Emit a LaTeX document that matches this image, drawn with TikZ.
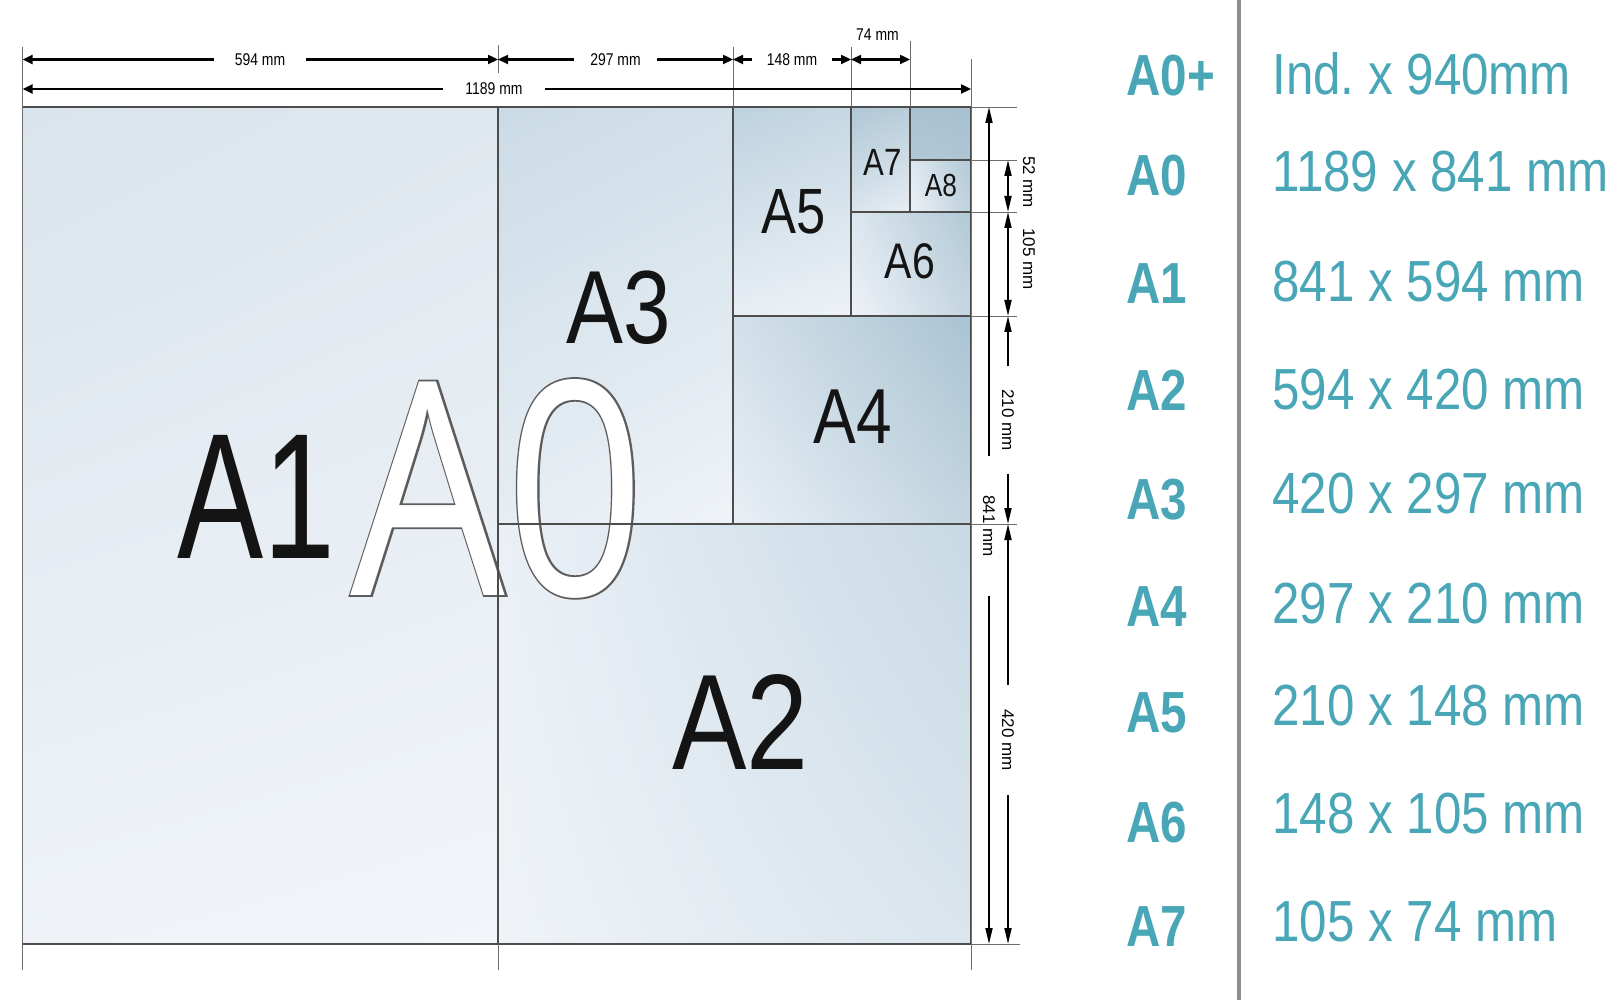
\documentclass[tikz,border=0pt]{standalone}
\usepackage{graphicx}
\usepackage{fontspec}
\setmainfont[FakeStretch=0.82]{Liberation Sans}
\newfontfamily\rotfont{Liberation Sans}
\newfontfamily\dimsfont[FakeStretch=0.85]{Liberation Sans}
\newfontfamily\outfont[FakeStretch=0.82]{Open Sans}
\newfontfamily\outrimfont[FakeStretch=0.82,FakeBold=1.2]{Open Sans}
\usetikzlibrary{arrows.meta,shadings}
\frenchspacing

\definecolor{edgegray}{HTML}{4D4D4D}
\definecolor{guidegray}{HTML}{6E6E6E}
\definecolor{rimgray}{HTML}{5C5C5C}
\definecolor{bargray}{HTML}{8E8E8E}
\definecolor{sizeteal}{HTML}{48A6B6}
\definecolor{nameblack}{HTML}{141414}

% four-corner tint of one sheet: corners, then ul ur ll lr
\newcommand{\papertint}[6]{%
  \definecolor{tintul}{HTML}{#3}\definecolor{tintur}{HTML}{#4}%
  \definecolor{tintll}{HTML}{#5}\definecolor{tintlr}{HTML}{#6}%
  \shade[upper left=tintul,upper right=tintur,lower left=tintll,lower right=tintlr] #1 rectangle #2;}

\tikzset{
  htip/.tip={Triangle[length=5pt,width=4.5pt]},
  vtip/.tip={Triangle[length=8pt,width=3.5pt]},
}

\begin{document}
\begin{tikzpicture}[x=0.5pt,y=-0.5pt,
  sheetline/.style={draw=edgegray,line width=0.65pt},
  guide/.style={draw=guidegray,line width=0.45pt},
  dimh/.style={line width=1.15pt},
  dimv/.style={line width=0.9pt},
  dimlabel/.style={font=\fontsize{8.5}{9}\selectfont,inner ysep=1pt,inner xsep=#1},
  dimlabel/.default=2pt,
  vlabel/.style={font=\rotfont\fontsize{8.5}{9}\selectfont,rotate=-90,inner ysep=1pt,inner xsep=#1},
  vlabel/.default=2pt,
  sheetname/.style={inner sep=0pt,anchor=base,text=nameblack,font=\fontsize{#1}{#1}\selectfont},
  sizename/.style={inner sep=0pt,anchor=base west,text=sizeteal,font=\bfseries\fontsize{29}{29}\selectfont},
  sizedims/.style={inner sep=0pt,anchor=base west,text=sizeteal,font=\dimsfont\fontsize{29}{29}\selectfont}]
\useasboundingbox (0,0) rectangle (1608,1000);

% corners of the sheets
\coordinate (pL) at (22.6,107);
\coordinate (pA) at (498,107);
\coordinate (pB) at (733,107);
\coordinate (pC) at (851,107);
\coordinate (pD) at (910,107);
\coordinate (qT) at (971,107);
\coordinate (q8) at (971,160);
\coordinate (q7) at (971,212);
\coordinate (q5) at (971,316);
\coordinate (q3) at (971,524);
\coordinate (qB) at (971,944);
\coordinate (cv) at (1008,0);

% tints of the sheets
\papertint{(pL)}{(pA |- qB)}{DAE4EC}{E0E8EF}{EFF3F8}{F2F5F9}
\papertint{(pA)}{(pB |- q3)}{CBDBE6}{D2E0E9}{E6EDF3}{EFF3F8}
\papertint{(pA |- q3)}{(qB)}{EBF0F6}{C8D9E4}{EFF3F8}{DAE5ED}
\papertint{(pB |- q5)}{(q3)}{D3E0E9}{A9C3D3}{E9EFF5}{C3D5E0}
\papertint{(pB)}{(pC |- q5)}{BDD2DF}{C6D8E3}{E8EEF4}{EEF2F7}
\papertint{(pC |- q7)}{(q5)}{DCE6EE}{B1C8D6}{EEF2F7}{C5D6E1}
\papertint{(pC)}{(pD |- q7)}{AFC7D6}{B8CDDA}{D9E4EC}{E8EEF4}
\papertint{(pD |- q8)}{(q7)}{DDE7EE}{B2C9D7}{EEF2F7}{BED1DD}
\papertint{(pD)}{(q8)}{A9C2D2}{A8C1D1}{B1C8D6}{ADC5D4}

% outlined A0
\node[sheetname=149,font=\outrimfont\fontsize{149}{149}\selectfont,text=rimgray] (A0rim) at (498,595) {A0};
\node[sheetname=149,font=\outfont\fontsize{149}{149}\selectfont,text=white] (A0) at (A0rim.base) {A0};

% sheet edges
\draw[sheetline] (pL) rectangle (qB);
\draw[sheetline] (pA) -- (pA |- qB) (pB) -- (pB |- q3) (pC) -- (pC |- q5) (pD) -- (pD |- q7)
  (pA |- q3) -- (q3) (pB |- q5) -- (q5) (pC |- q7) -- (q7) (pD |- q8) -- (q8);

% extension lines
\draw[guide] (22.6,47) -- (22.6,970) (498,45) -- (498,73) (qB -| pA) -- (498,970)
  (733,47) -- (pB) (851,47) -- (pC) (910,41) -- (pD) (971,59) -- (971,970);
\draw[guide] (qT) -- +(46,0) (q8) -- +(46,0) (q7) -- +(46,0) (q5) -- +(46,0)
  (q3) -- +(46,0) (qB) -- +(49,0);

% sheet names
\node[sheetname=89.5] (A1) at (256,559) {\scalebox{0.88}[1]{A1}};
\node[sheetname=68] (A2) at (740.5,769) {A2};
\node[sheetname=52] (A3) at (619,343.5) {A3};
\node[sheetname=39] (A4) at (853,444) {A4};
\node[sheetname=32] (A5) at (794,234) {A5};
\node[sheetname=25] (A6) at (910,279) {A6};
\node[sheetname=19] (A7) at (882.5,176) {A7};
\node[sheetname=16] (A8) at (941,197) {A8};

% widths
\node[dimlabel=10.4pt] (d594) at (260,59.5) {594 mm};
\node[dimlabel=8.2pt] (d297) at (615.5,59.5) {297 mm};
\node[dimlabel=7.4pt] (d148) at (792,59.5) {148 mm};
\node[dimlabel] (d74) at (877.5,35) {74 mm};
\node[dimlabel=11.1pt] (d1189) at (494,89) {1189 mm};
\draw[dimh,-htip] (d594) -- (pL |- d594);
\draw[dimh,-htip] (d594) -- (pA |- d594);
\draw[dimh,-htip] (d297) -- (pA |- d297);
\draw[dimh,-htip] (d297) -- (pB |- d297);
\draw[dimh,-htip] (d148) -- (pB |- d148);
\draw[dimh,-htip] (d148) -- (pC |- d148);
\draw[dimh,htip-htip] (pC |- d148) -- (pD |- d148);
\draw[dimh,-htip] (d1189) -- (pL |- d1189);
\draw[dimh,-htip] (d1189) -- (qT |- d1189);

% heights
\node[vlabel=19.4pt] (d841) at (989,526) {841 mm};
\draw[dimv,-vtip] (d841) -- (qT -| d841);
\draw[dimv,-vtip] (d841) -- (qB -| d841);
\node[vlabel] (d52) at (1029,182) {52 mm};
\node[vlabel] (d105) at (1029,259) {105 mm};
\draw[dimv,vtip-vtip] (q8 -| cv) -- (q7 -| cv);
\draw[dimv,vtip-vtip] (q7 -| cv) -- (q5 -| cv);
\node[vlabel=11.2pt] (d210) at (1008,420) {210 mm};
\draw[dimv,-vtip] (d210) -- (q5 -| d210);
\draw[dimv,-vtip] (d210) -- (q3 -| d210);
\node[vlabel=11.9pt] (d420) at (1008,740) {420 mm};
\draw[dimv,-vtip] (d420) -- (q3 -| d420);
\draw[dimv,-vtip] (d420) -- (qB -| d420);

% size table
\draw[bargray,line width=1.65pt] (1239,0) -- (1239,1000);
\foreach \sz/\dims/\ya/\yb [count=\i] in {A0+/Ind. x 940mm/95.3/95, A0/1189 x 841 mm/195.8/192,
    A1/841 x 594 mm/303.5/302, A2/594 x 420 mm/411/410, A3/420 x 297 mm/519/514,
    A4/297 x 210 mm/626.5/623, A5/210 x 148 mm/732/725.5, A6/148 x 105 mm/842/833,
    A7/105 x 74 mm/946.5/941}{
  \node[sizename] (size\i) at (1126,\ya) {\sz};
  \node[sizedims] (dims\i) at (1272,\yb) {\dims};
}
\end{tikzpicture}
\end{document}
